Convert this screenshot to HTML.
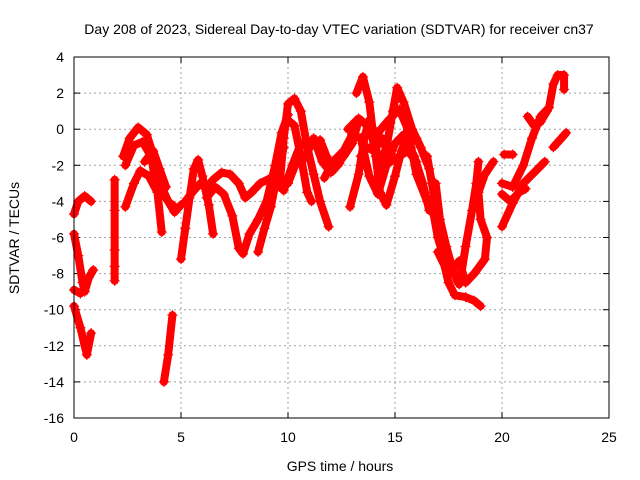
<!DOCTYPE html>
<html><head><meta charset="utf-8"><style>
body{margin:0;background:#fff}
svg{display:block;font-family:"Liberation Sans",sans-serif}
</style></head><body>
<svg id="c" width="640" height="480">
<text x="339" y="34" font-size="14" text-anchor="middle">Day 208 of 2023, Sidereal Day-to-day VTEC variation (SDTVAR) for receiver cn37</text>
<text x="340" y="471" font-size="14" text-anchor="middle">GPS time / hours</text>
<text transform="translate(19,238) rotate(-90)" font-size="14" text-anchor="middle">SDTVAR / TECUs</text>
<g id="grid"></g><g id="marks"></g>
<rect x="74" y="57" width="535" height="361" fill="none" stroke="#000" stroke-width="1"/>
</svg>
<script>
const xTicks=[0,5,10,15,20,25];
const yTicks=[4,2,0,-2,-4,-6,-8,-10,-12,-14,-16];
const trackA=[[0,-4.7],[0.2,-4.0],[0.5,-3.7],[0.8,-4.0]];
const trackB=[[0,-5.8],[0.2,-7],[0.4,-8.5],[0.5,-9],[0.7,-8.2],[0.9,-7.8]];
const trackC=[[0,-8.9],[0.3,-9.1],[0.5,-8.8]];
const trackD=[[0,-9.8],[0.3,-11],[0.6,-12.5],[0.8,-11.3]];
const trackE=[[1.9,-2.8],[1.9,-4.5],[1.9,-6.7],[1.9,-7.6],[1.9,-8.4]];
const trackF=[[4.2,-14],[4.4,-12.5],[4.6,-10.3]];
const trackT1=[[2.3,-1.5],[2.6,-0.5],[3.0,0.1],[3.4,-0.3],[3.8,-1.8],[4.1,-3.2],[4.4,-4.0],[4.7,-4.3]];
const trackT2=[[2.4,-2.0],[2.8,-0.9],[3.2,-0.7],[3.6,-1.5],[3.9,-3.5],[4.1,-5.7]];
const trackT3=[[2.4,-4.3],[2.8,-3.0],[3.1,-2.3],[3.5,-2.6],[3.9,-3.5],[4.3,-3.8],[4.7,-4.6],[5.0,-4.2]];
const trackT4=[[5.0,-7.2],[5.2,-5.5],[5.4,-3.8],[5.6,-2.2],[5.8,-1.7],[6.0,-2.6],[6.3,-4.2],[6.5,-5.8]];
const trackT5=[[5.2,-4.0],[5.6,-3.4],[5.9,-3.0],[6.2,-3.3],[6.5,-2.8],[6.9,-2.4],[7.3,-2.5],[7.7,-3.0],[8.0,-3.8],[8.3,-3.5],[8.7,-3.0],[9.2,-2.7],[9.5,-2.3]];
const trackT6=[[6.2,-3.8],[6.6,-3.2],[7.0,-3.6],[7.4,-4.8],[7.7,-6.6],[7.9,-6.9],[8.2,-5.8],[8.6,-5.0],[9.0,-4.0],[9.4,-2.0],[9.7,-0.2],[10.0,0.8]];
const trackT7=[[8.6,-6.8],[8.9,-5.5],[9.2,-4.3],[9.5,-2.5],[9.8,-1.0]];
const trackT8=[[3.3,-1.8],[3.7,-1.2],[4.0,-2.2],[4.3,-3.2]];
const trackM1=[[9.6,-3.2],[9.8,-0.5],[10.0,1.4],[10.3,1.7],[10.6,1.0],[10.9,-1.0],[11.2,-2.5],[11.5,-4.0],[11.9,-5.4]];
const trackM2=[[10.0,0.5],[10.3,0.2],[10.6,-1.5],[10.9,-3.5],[11.1,-4.0]];
const trackM3=[[9.8,-3.4],[10.2,-2.0],[10.6,-0.8],[11.1,-0.8],[11.5,-0.6],[11.8,-1.5],[12.1,-2.3],[12.6,-1.5],[13.0,-0.8],[13.3,0.5]];
const trackM8=[[10.0,-3.0],[10.4,-1.8],[10.8,-1.6],[11.2,-0.5],[11.6,-1.8],[12.0,-2.4],[12.4,-1.9]];
const trackM4=[[13.2,2.0],[13.5,2.9],[13.8,1.5],[14.0,-0.5],[14.3,-2.0],[14.6,-1.0],[14.9,1.0],[15.1,2.3],[15.4,1.5],[15.8,0],[16.2,-1],[16.6,-2.2]];
const trackM5=[[12.9,-4.3],[13.3,-2.5],[13.6,-0.3],[13.8,0.5],[14.1,-1.5],[14.3,-3.5],[14.6,-4.2],[15.0,-2.6],[15.3,-1.2],[15.5,-0.6],[15.9,-1.5],[16.3,-3.0],[16.6,-4.5]];
const trackM6=[[12.8,0],[13.3,0.6],[13.7,0.2],[14.2,-0.2],[14.7,0.5],[15.2,1.1],[15.6,0],[16.0,-2.5],[16.5,-4.0]];
const trackM7=[[11.7,-2.7],[12.1,-1.8],[12.6,-1.2],[13.0,-0.3],[13.4,-0.5],[13.8,-2.6],[14.2,-3.6],[14.6,-2.0],[15.0,-0.8],[15.4,-0.3],[16.0,-0.5]];
const trackM9=[[13.4,-1.5],[13.7,-1.0],[14.0,-1.2],[14.4,-0.5],[14.8,-1.8],[15.2,-1.5],[15.6,-1.2],[16.0,-1.8]];
const trackV1=[[16.5,-1.5],[16.8,-3.5],[17.0,-5.5],[17.2,-7],[17.5,-8.5],[17.8,-9.2],[18.3,-9.3],[18.7,-9.5],[19.0,-9.8]];
const trackV2=[[16.7,-4.0],[17.0,-6],[17.3,-7.2],[17.6,-7.5],[17.9,-8.4],[18.1,-8.0],[18.3,-6.5],[18.6,-4.5],[18.8,-3.0],[18.9,-1.8]];
const trackV3=[[17.0,-6.8],[17.5,-8.0],[18.0,-7.3],[18.3,-8.5],[18.7,-8.0],[19.2,-7.2],[19.3,-6],[19.0,-5],[18.9,-3.5],[19.2,-2.5],[19.6,-1.8]];
const trackV4=[[16.9,-3.0],[17.1,-5.0],[17.4,-6.5],[17.7,-7.8],[18.0,-8.6]];
const trackR1=[[20.0,-5.4],[20.5,-4.1],[21.0,-3.0],[21.5,-2.4],[22.0,-1.8]];
const trackR2=[[20.0,-3.0],[20.5,-3.2],[21.0,-2.0],[21.4,-0.5],[21.8,0.7],[22.2,1.2],[22.4,2.5],[22.6,3.0],[22.9,3.0],[22.9,2.2]];
const trackR3=[[20.1,-1.4],[20.5,-1.4]];
const trackR4=[[20.0,-3.6],[20.4,-4.0],[20.8,-3.5],[21.1,-3.3]];
const trackR5=[[22.4,-1.0],[22.7,-0.6],[23.0,-0.2]];
const trackR6=[[21.2,0.7],[21.5,0.2],[21.8,0.4],[22.1,1.0]];
const tracks=[trackA,trackB,trackC,trackD,trackE,trackF,trackT1,trackT2,trackT3,trackT4,trackT5,trackT6,trackT7,trackT8,trackM1,trackM2,trackM3,trackM8,trackM4,trackM5,trackM6,trackM7,trackM9,trackV1,trackV2,trackV3,trackV4,trackR1,trackR2,trackR3,trackR4,trackR5,trackR6];

const NS="http://www.w3.org/2000/svg";
const X0=74,X1=609,Y0=57,Y1=418,XMIN=0,XMAX=25,YMIN=-16,YMAX=4;
function sx(h){return X0+(h-XMIN)/(XMAX-XMIN)*(X1-X0);}
function sy(v){return Y1-(v-YMIN)/(YMAX-YMIN)*(Y1-Y0);}
function mk(tag,attrs,parent){const e=document.createElementNS(NS,tag);for(const k in attrs)e.setAttribute(k,attrs[k]);parent.appendChild(e);return e;}
const grid=document.getElementById('grid'),marks=document.getElementById('marks');
xTicks.forEach(t=>{
  const x=sx(t);
  if(t>XMIN&&t<XMAX){const l=mk('line',{x1:x,x2:x,y1:Y0,y2:Y1,stroke:'#a0a0a0','stroke-dasharray':'2,3'},grid);
  
  }
  mk('line',{x1:x,x2:x,y1:Y1,y2:Y1-6,stroke:'#000'},grid);
  mk('line',{x1:x,x2:x,y1:Y0,y2:Y0+6,stroke:'#000'},grid);
  const tx=mk('text',{x:x,y:Y1+24,'font-size':14,'text-anchor':'middle'},grid);tx.textContent=t;
  
  
});
yTicks.forEach(t=>{
  const y=sy(t);
  if(t>YMIN&&t<YMAX){const l=mk('line',{x1:X0,x2:X1,y1:y,y2:y,stroke:'#a0a0a0','stroke-dasharray':'2,3'},grid);
  
  }
  mk('line',{x1:X0,x2:X0+6,y1:y,y2:y,stroke:'#000'},grid);
  mk('line',{x1:X1,x2:X1-6,y1:y,y2:y,stroke:'#000'},grid);
  const tx=mk('text',{x:X0-10,y:y+5,'font-size':14,'text-anchor':'end'},grid);tx.textContent=t;
  
  
});
tracks.forEach(tr=>{
  const pts=tr.map(p=>sx(p[0])+','+sy(p[1])).join(' ');
  const pl=mk('polyline',{points:pts,fill:'none',stroke:'#ff0000','stroke-width':8,'stroke-linejoin':'round','stroke-linecap':'round'},marks);
  
  
  tr.forEach(p=>{
    const x=sx(p[0]),y=sy(p[1]);
    const m=mk('path',{d:`M${x-5},${y}H${x+5}M${x},${y-5}V${y+5}`,stroke:'#ff0000','stroke-width':1.2},marks);
    
    
  });
});
</script>
</body></html>
